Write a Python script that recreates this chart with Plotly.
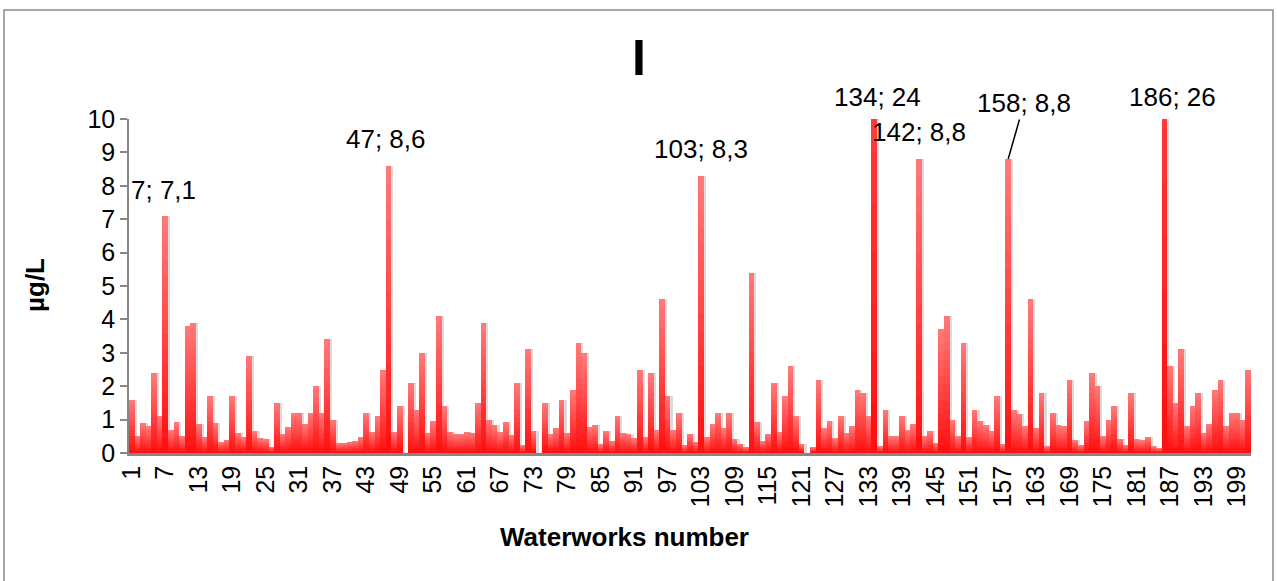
import plotly.graph_objects as go

# Iodine concentration per waterworks (µg/L)
waterworks = list(range(1, 202))
iodine = [
    1.6, 0.5, 0.9, 0.8, 2.4, 1.1, 7.1, 0.7, 0.93, 0.5,
    3.8, 3.9, 0.87, 0.48, 1.7, 0.9, 0.33, 0.4, 1.7, 0.6,
    0.48, 2.9, 0.65, 0.45, 0.41, 0.18, 1.5, 0.58, 0.78, 1.2,
    1.2, 0.88, 1.2, 2.0, 1.2, 3.4, 1.0, 0.3, 0.3, 0.33,
    0.36, 0.48, 1.2, 0.63, 1.1, 2.5, 8.6, 0.63, 1.4, 0,
    2.1, 1.3, 3.0, 0.6, 0.95, 4.1, 1.4, 0.63, 0.57, 0.57,
    0.63, 0.6, 1.5, 3.9, 0.98, 0.83, 0.63, 0.92, 0.53, 2.1,
    0.23, 3.1, 0.65, 0, 1.5, 0.56, 0.74, 1.6, 0.6, 1.9,
    3.3, 3.0, 0.77, 0.83, 0.26, 0.65, 0.35, 1.1, 0.6, 0.57,
    0.45, 2.5, 0.48, 2.4, 0.68, 4.6, 1.7, 0.7, 1.2, 0.23,
    0.57, 0.33, 8.3, 0.48, 0.87, 1.2, 0.75, 1.2, 0.41, 0.28,
    0.18, 5.4, 0.93, 0.36, 0.58, 2.1, 0.63, 1.7, 2.6, 1.1,
    0.26, 0, 0.18, 2.2, 0.75, 0.96, 0.45, 1.1, 0.6, 0.81,
    1.9, 1.8, 1.1, 24, 0.2, 1.3, 0.5, 0.5, 1.1, 0.68,
    0.87, 8.8, 0.5, 0.65, 0.3, 3.7, 4.1, 0.98, 0.5, 3.3,
    0.47, 1.3, 0.95, 0.84, 0.65, 1.7, 0.26, 8.8, 1.28, 1.18,
    0.81, 4.6, 0.75, 1.8, 0.2, 1.2, 0.84, 0.81, 2.2, 0.38,
    0.23, 0.96, 2.4, 2.0, 0.5, 0.98, 1.4, 0.41, 0.23, 1.8,
    0.41, 0.38, 0.47, 0.2, 0.15, 26, 2.6, 1.5, 3.1, 0.81,
    1.4, 1.8, 0.6, 0.87, 1.9, 2.2, 0.81, 1.2, 1.2, 0.98,
    2.5,
]

# Waterworks whose values are called out
labelled = [7, 47, 103, 134, 142, 158, 186]
# label centre for each call-out: x in category units, y as fraction of plot height
label_pos = [(6.6, 0.787), (46.6, 0.940), (103.0, 0.910), (134.6, 1.066),
             (142.1, 0.961), (160.7, 1.048), (187.4, 1.066)]

tick_numbers = list(range(1, 202, 6))

FONT = "Arial, Liberation Sans, sans-serif"
TOP_RGB = (255, 120, 120)
BOTTOM_RGB = (255, 10, 10)
N_LAYERS = 16

fig = go.Figure()

# soft drop shadow to the right of each bar
fig.add_trace(go.Bar(
    x=waterworks, y=iodine, width=1, offset=-0.12,
    marker=dict(color="rgba(0,0,0,0.14)", line=dict(width=0)),
    hoverinfo="skip",
))

# vertical gradient: stacked overlay of shrinking bars, lighter at the top
for k in range(N_LAYERS, 0, -1):
    f = k / N_LAYERS
    r = round(BOTTOM_RGB[0] + (TOP_RGB[0] - BOTTOM_RGB[0]) * f)
    g = round(BOTTOM_RGB[1] + (TOP_RGB[1] - BOTTOM_RGB[1]) * f)
    b = round(BOTTOM_RGB[2] + (TOP_RGB[2] - BOTTOM_RGB[2]) * f)
    fig.add_trace(go.Bar(
        x=waterworks, y=[v * f for v in iodine], width=1, offset=-0.5,
        marker=dict(color=f"rgb({r},{g},{b})", line=dict(width=0)),
        hoverinfo="skip" if k < N_LAYERS else None,
    ))


def fmt(v):
    return f"{v:g}".replace(".", ",")


LABEL_FONT = dict(family=FONT, size=26, color="black")
annotations = []
for n, (lx, ly) in zip(labelled, label_pos):
    v = iodine[n - 1]
    text = f"{n}; {fmt(v)}"
    if n == 158:
        annotations.append(dict(
            x=n, y=v, xref="x", yref="y", text=text, showarrow=True,
            arrowhead=0, arrowwidth=1.5, arrowcolor="black", standoff=0,
            ax=16, ay=-56, font=LABEL_FONT,
        ))
    else:
        annotations.append(dict(
            x=lx, y=ly, xref="x", yref="paper", text=text, showarrow=False,
            xanchor="center", yanchor="middle", font=LABEL_FONT,
        ))

# chart title and axis titles
annotations += [
    dict(x=0.4545, y=1.1826, xref="paper", yref="paper", text="<b>I</b>",
         showarrow=False, xanchor="center", yanchor="middle",
         font=dict(family=FONT, size=50, color="black")),
    dict(x=0.442, y=-0.2515, xref="paper", yref="paper",
         text="<b>Waterworks number</b>", showarrow=False,
         xanchor="center", yanchor="middle",
         font=dict(family=FONT, size=26, color="black")),
    dict(x=-0.0838, y=0.503, xref="paper", yref="paper", text="<b>µg/L</b>",
         showarrow=False, textangle=-90, xanchor="center", yanchor="middle",
         font=dict(family=FONT, size=26, color="black")),
]

fig.update_layout(
    width=1277, height=581, autosize=False,
    margin=dict(l=129, r=26, t=119, b=128, pad=0),
    paper_bgcolor="white", plot_bgcolor="white",
    barmode="overlay", bargap=0, showlegend=False,
    annotations=annotations,
    shapes=[dict(type="rect", xref="paper", yref="paper",
                 x0=-0.1114, x1=1.0196, y0=-0.5, y1=1.3263,
                 line=dict(color="#8a8a8a", width=1.5), layer="below")],
    xaxis=dict(
        range=[0.5, 201.5], tickmode="array", tickvals=tick_numbers,
        ticktext=[str(t) for t in tick_numbers], tickangle=-90,
        tickfont=dict(family=FONT, size=25, color="black"),
        showline=True, linecolor="#868686", linewidth=2.5,
        ticks="", showgrid=False, zeroline=False,
    ),
    yaxis=dict(
        range=[0, 10], dtick=1, tickfont=dict(family=FONT, size=25, color="black"),
        showline=True, linecolor="#868686", linewidth=1.5,
        ticks="outside", ticklen=7, tickcolor="#868686", tickwidth=1.5,
        showgrid=False, zeroline=False,
    ),
)

fig.write_html("out.html")
